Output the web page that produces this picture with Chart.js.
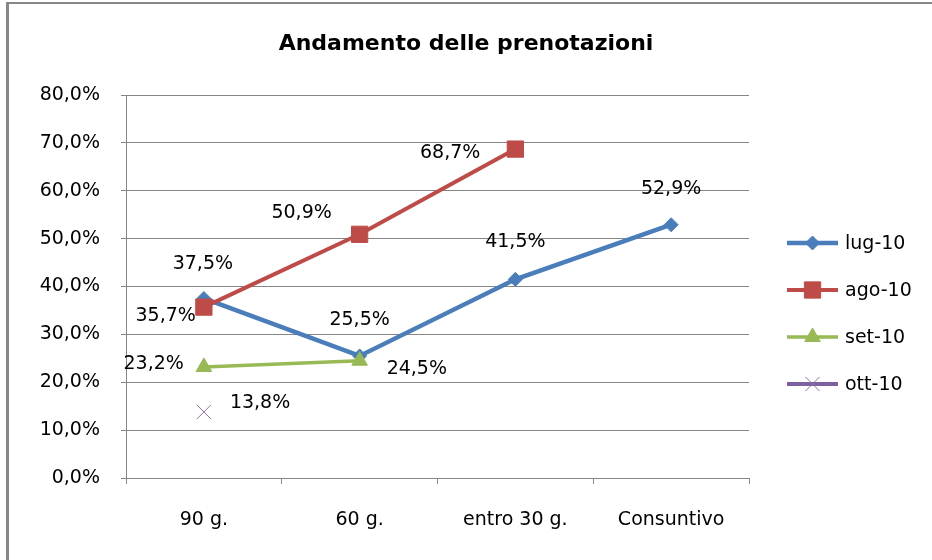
<!DOCTYPE html>
<html><head><meta charset="utf-8">
<script src="https://cdn.jsdelivr.net/npm/chart.js@4.4.0/dist/chart.umd.min.js"></script>
<style>
html,body{margin:0;padding:0;background:#fff;overflow:hidden}
#wrap{position:relative;width:932px;height:560px}
#frame{position:absolute;left:6px;top:2px;width:1000px;height:700px;border-left:3px solid #878787;border-top:2px solid #878787}
canvas{position:absolute;left:0;top:0}
</style></head><body>
<div id="wrap"><div id="frame"></div><canvas id="c" width="932" height="560"></canvas></div>
<script>
const categories = ['90 g.', '60 g.', 'entro 30 g.', 'Consuntivo'];
const seriesNames = ['lug-10', 'ago-10', 'set-10', 'ott-10'];
const lug10 = [37.5, 25.5, 41.5, 52.9];
const ago10 = [35.7, 50.9, 68.7, null];
const set10 = [23.2, 24.5, null, null];
const ott10 = [13.8, null, null, null];
const yTicks = [0, 10, 20, 30, 40, 50, 60, 70, 80];

const FONT = 'DejaVu Sans';
const fmt = v => v.toFixed(1).replace('.', ',') + '%';

// label placement per point: [dx, dy, align]
const labelPlacement = [
  [[-1,-34,'center'],[0,-36,'center'],[0,-37,'center'],[0,-36,'center']],
  [[-8,9,'right'],[-58,-21,'center'],[-35,4,'right'],null],
  [[-20,-3,'right'],[27,8,'left'],null,null],
  [[26,-9,'left'],null,null,null]
];

const dataLabels = {
  id: 'dataLabels',
  afterDatasetsDraw(chart) {
    const ctx = chart.ctx;
    ctx.save();
    ctx.font = '19px "' + FONT + '"';
    ctx.fillStyle = '#000';
    ctx.textBaseline = 'middle';
    chart.data.datasets.forEach((ds, di) => {
      const meta = chart.getDatasetMeta(di);
      meta.data.forEach((el, i) => {
        const v = ds.data[i];
        if (v === null || v === undefined) return;
        const p = labelPlacement[di][i] || [0,-34,'center'];
        ctx.textAlign = p[2];
        ctx.fillText(fmt(v), el.x + p[0], el.y + p[1]);
      });
    });
    ctx.restore();
  }
};

const customLegend = {
  id: 'customLegend',
  afterDraw(chart) {
    const ctx = chart.ctx;
    const a = chart.chartArea;
    const x0 = a.right + 38, x1 = a.right + 89, xt = a.right + 96;
    ctx.save();
    chart.data.datasets.forEach((ds, i) => {
      const y = 243 + i * 47;
      ctx.strokeStyle = ds.borderColor;
      ctx.lineWidth = ds.borderWidth;
      ctx.beginPath(); ctx.moveTo(x0, y); ctx.lineTo(x1, y); ctx.stroke();
      ctx.fillStyle = ds.pointBackgroundColor;
      ctx.strokeStyle = ds.pointBorderColor;
      ctx.lineWidth = ds.pointBorderWidth;
      Chart.helpers.drawPoint(ctx, {pointStyle: ds.pointStyle, radius: ds.pointRadius, borderWidth: ds.pointBorderWidth, rotation: 0}, (x0 + x1) / 2, y);
      ctx.fillStyle = '#000';
      ctx.font = '19px "' + FONT + '"';
      ctx.textAlign = 'left';
      ctx.textBaseline = 'middle';
      ctx.fillText(ds.label, xt, y + 1);
    });
    ctx.restore();
  }
};

const blue = '#4A7EBB', red = '#BE4B48', green = '#98B954', purple = '#7D60A0';

new Chart(document.getElementById('c'), {
  type: 'line',
  data: {
    labels: categories,
    datasets: [
      {label: seriesNames[0], data: lug10, borderColor: blue, backgroundColor: blue, pointBackgroundColor: blue, pointBorderColor: blue, borderWidth: 4.5, pointStyle: 'rectRot', pointRadius: 7, pointBorderWidth: 1, order: 4},
      {label: seriesNames[1], data: ago10, borderColor: red, backgroundColor: red, pointBackgroundColor: red, pointBorderColor: red, borderWidth: 4, pointStyle: 'rect', pointRadius: 11.5, pointBorderWidth: 1, order: 3},
      {label: seriesNames[2], data: set10, borderColor: green, backgroundColor: green, pointBackgroundColor: green, pointBorderColor: green, borderWidth: 3.5, pointStyle: 'triangle', pointRadius: 9, pointBorderWidth: 1, order: 2},
      {label: seriesNames[3], data: ott10, borderColor: purple, backgroundColor: purple, pointBackgroundColor: purple, pointBorderColor: '#8A70B0', borderWidth: 4, pointStyle: 'crossRot', pointRadius: 10, pointBorderWidth: 1, order: 1}
    ]
  },
  options: {
    responsive: false,
    animation: false,
    devicePixelRatio: 1,
    spanGaps: false,
    layout: {padding: {top: 31, bottom: 22, left: 0, right: 0}},
    plugins: {
      legend: {display: false},
      tooltip: {enabled: false},
      title: {display: true, text: 'Andamento delle prenotazioni', color: '#000', font: {family: FONT, size: 22, weight: 'bold', lineHeight: 1.2}, padding: {top: 0, bottom: 37.6}}
    },
    scales: {
      x: {
        type: 'category',
        offset: true,
        grid: {display: true, drawOnChartArea: false, drawTicks: true, tickLength: 6, color: '#868686', offset: true},
        border: {display: true, color: '#868686', width: 1},
        ticks: {color: '#000', font: {family: FONT, size: 19}, padding: 25, maxRotation: 0, autoSkip: false},
        afterFit: s => { s.height = 60; }
      },
      y: {
        min: yTicks[0], max: yTicks[yTicks.length - 1],
        afterBuildTicks: s => { s.ticks = yTicks.map(v => ({value: v})); },
        grid: {color: '#868686', tickLength: 5, drawTicks: true},
        border: {display: true, color: '#868686', width: 1},
        ticks: {color: '#000', font: {family: FONT, size: 19}, padding: 21, callback: v => fmt(v)},
        afterFit: s => { s.width = 126; }
      },
      y2: {
        position: 'right', display: true,
        grid: {display: false, drawTicks: false}, border: {display: false},
        ticks: {display: false},
        afterFit: s => { s.width = 183; }
      }
    }
  },
  plugins: [dataLabels, customLegend]
});
</script>
</body></html>
